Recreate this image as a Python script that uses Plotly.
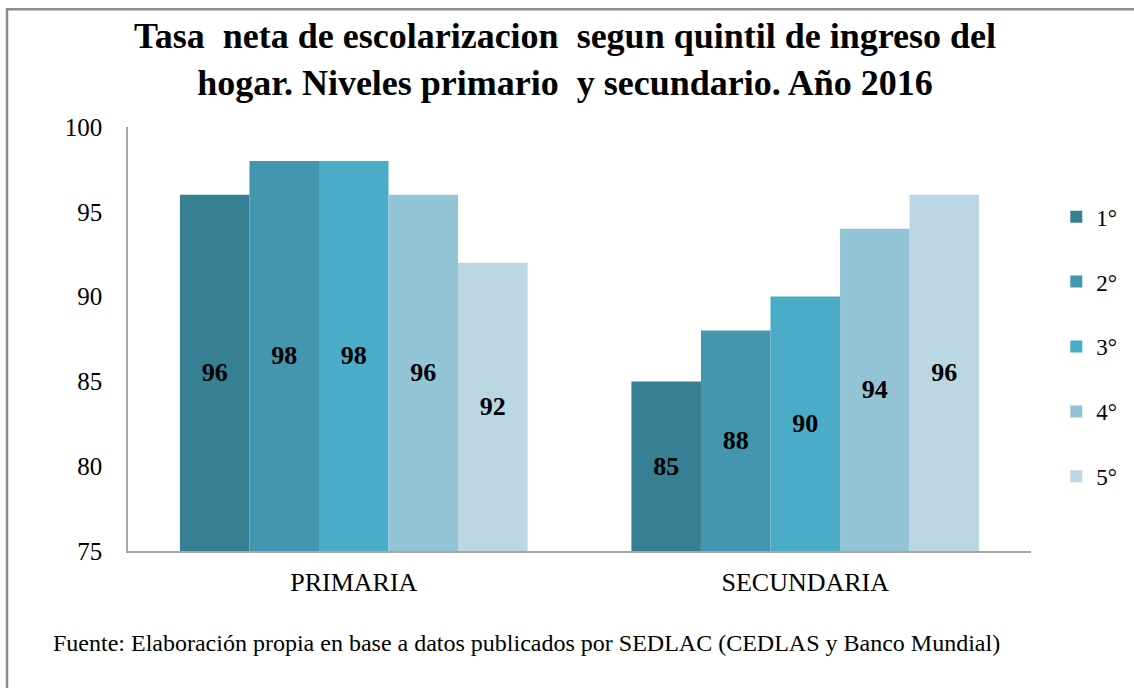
import plotly.graph_objects as go

categories = ["PRIMARIA", "SECUNDARIA"]
quintiles = ["1°", "2°", "3°", "4°", "5°"]
values = {
    "1°": [96, 85],
    "2°": [98, 88],
    "3°": [98, 90],
    "4°": [96, 94],
    "5°": [92, 96],
}
colors = ["#377F92", "#4396AD", "#4AACC6", "#93C4D6", "#BBD7E3"]
y_ticks = [75, 80, 85, 90, 95, 100]
BASE = 75

FONT = "Liberation Serif"

fig = go.Figure()
for i, q in enumerate(quintiles):
    fig.add_trace(go.Bar(
        name=q, x=categories, y=[v - BASE for v in values[q]], base=BASE,
        marker=dict(color=colors[i], line=dict(width=0)),
        text=values[q], texttemplate="<b>%{text}</b>",
        textposition="inside", insidetextanchor="middle",
        textfont=dict(family=FONT, size=26, color="black"),
        legendgroup=q,
    ))

fig.update_layout(
    width=1134, height=688,
    paper_bgcolor="white", plot_bgcolor="white",
    margin=dict(l=128, r=99, t=127, b=137),
    barmode="group", bargap=0.23, bargroupgap=0,
    font=dict(family=FONT, color="black"),
    legend=dict(
        x=1.028, xanchor="left", y=0.839, yanchor="top",
        font=dict(family=FONT, size=23, color="black"),
        tracegroupgap=32, bgcolor="rgba(0,0,0,0)",
    ),
    showlegend=True,
)
fig.update_yaxes(
    range=[75, 100], tickvals=y_ticks, showgrid=False,
    showline=True, linecolor="#A6A6A6", linewidth=1.5,
    ticks="", ticklabelstandoff=19, automargin=False,
    tickfont=dict(family=FONT, size=25, color="black"),
    zeroline=False,
)
fig.update_xaxes(
    showline=True, linecolor="#A6A6A6", linewidth=2,
    ticks="", ticklabelstandoff=7, automargin=False,
    tickfont=dict(family=FONT, size=26, color="black"),
)
fig.add_annotation(
    text="<b>Tasa&nbsp; neta de escolarizacion&nbsp; segun quintil de ingreso del<br>hogar. Niveles primario&nbsp; y secundario. Año 2016</b>",
    xref="paper", yref="paper", x=0.484, y=1.266,
    xanchor="center", yanchor="top", showarrow=False,
    font=dict(family=FONT, size=36, color="black"),
)
fig.add_annotation(
    text="Fuente: Elaboración propia en base a datos publicados por SEDLAC (CEDLAS y Banco Mundial)",
    xref="paper", yref="paper", x=-0.085, y=-0.217,
    xanchor="left", yanchor="middle", showarrow=False,
    font=dict(family=FONT, size=24, color="black"),
)
fig.add_shape(
    type="rect", xref="paper", yref="paper",
    x0=-0.134, x1=1.12, y0=-0.35, y1=1.278,
    line=dict(color="#8C8C8C", width=2.5), fillcolor="rgba(0,0,0,0)",
    layer="below",
)
fig.write_html("out.html", config={"displayModeBar": False},
               post_script="document.body.style.margin='0';")
